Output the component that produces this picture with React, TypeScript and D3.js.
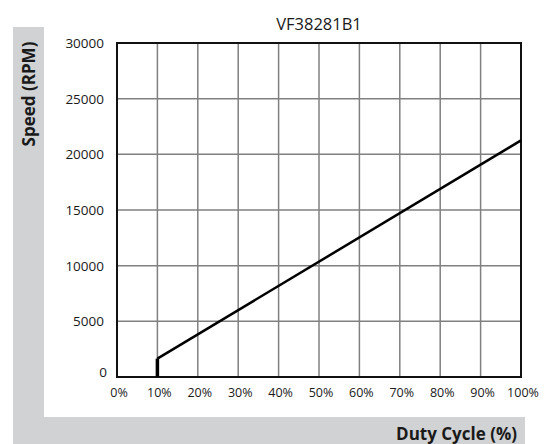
import React from 'react';
import * as d3 from 'd3';

const title = 'VF38281B1';
const xTicks = [0, 10, 20, 30, 40, 50, 60, 70, 80, 90, 100];
const yTicks = [0, 5000, 10000, 15000, 20000, 25000, 30000];
// duty cycle (%) vs speed (rpm)
const duty = [10, 10, 100];
const speed = [0, 1650, 21250];

const W = 547;
const H = 444;
const margin = { left: 117, right: 26, top: 43, bottom: 67 };
const font = '"Open Sans", "Noto Sans", sans-serif';

export default function App() {
  const x = d3.scaleLinear().domain([0, 100]).range([margin.left, W - margin.right]);
  const y = d3.scaleLinear().domain([0, 30000]).range([H - margin.bottom, margin.top]);

  const pts = duty.map((d, i) => [x(d), y(speed[i])] as [number, number]);
  const line = d3.line();

  return (
    <svg width={W} height={H} style={{ position: 'absolute', left: 0, top: 0 }}>
      {/* grey L band */}
      <rect x={13} y={27} width={31} height={H - 27} fill="#d1d2d4" />
      <rect x={13} y={417} width={512} height={H - 417} fill="#d1d2d4" />

      <text x={(x(0) + x(100)) / 2} y={30} textAnchor="middle" fontFamily={font} fontSize={16.5} fill="#1a1a1a">
        {title}
      </text>

      {xTicks.slice(1, -1).map((t) => (
        <line key={'vx' + t} x1={x(t)} x2={x(t)} y1={y(0)} y2={y(30000)} stroke="#808080" strokeWidth={1.5} />
      ))}
      {yTicks.slice(1, -1).map((t) => (
        <line key={'hy' + t} x1={x(0)} x2={x(100)} y1={y(t)} y2={y(t)} stroke="#808080" strokeWidth={1.5} />
      ))}
      <rect x={x(0)} y={y(30000)} width={x(100) - x(0)} height={y(0) - y(30000)} fill="none" stroke="#111" strokeWidth={2} />

      {/* vertical start segment is drawn thicker */}
      <path d={line(pts.slice(0, 2)) || ''} stroke="#000" strokeWidth={3.5} fill="none" />
      <path d={line(pts.slice(1)) || ''} stroke="#000" strokeWidth={2.5} fill="none" />

      {yTicks.map((t) => (
        <text key={'yl' + t} x={t === 0 ? 107 : 104} y={y(t) + (t === 0 ? 0 : 5)} textAnchor="end" fontFamily={font} fontSize={13.5} fill="#1a1a1a">
          {t}
        </text>
      ))}
      {xTicks.map((t) => (
        <text key={'xl' + t} x={x(t) + 2} y={397} textAnchor="middle" fontFamily={font} fontSize={12.5} fill="#1a1a1a">
          {t + '%'}
        </text>
      ))}

      <text transform="translate(35,94) rotate(-90)" textAnchor="middle" fontFamily={font} fontSize={17} fontWeight="bold" fill="#1a1a1a">
        Speed (RPM)
      </text>
      <text x={517} y={440} textAnchor="end" fontFamily={font} fontSize={17} fontWeight="bold" fill="#1a1a1a">
        Duty Cycle (%)
      </text>
    </svg>
  );
}
